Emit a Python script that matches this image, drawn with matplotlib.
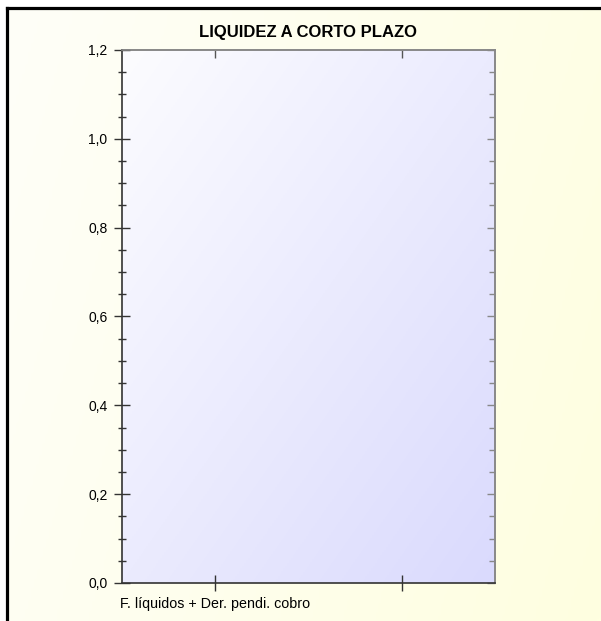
import numpy as np
import matplotlib
matplotlib.use('Agg')
import matplotlib.pyplot as plt
from matplotlib.ticker import FuncFormatter, MultipleLocator, NullFormatter
from matplotlib.colors import LinearSegmentedColormap
from matplotlib.lines import Line2D

plt.rcParams['font.family'] = ['Liberation Sans', 'DejaVu Sans']

title = 'LIQUIDEZ A CORTO PLAZO'
categories = ['F. líquidos + Der. pendi. cobro', '']
values = [0.0, 0.0]
y_max = 1.2

W, H = 601, 621
fig = plt.figure(figsize=(W / 100, H / 100), dpi=100, facecolor='white')

# background panel with soft cream gradient
bg = fig.add_axes([7 / W, 0, 1 - 7 / W, 1 - 9 / H], zorder=-10)
gx, gy = np.meshgrid(np.linspace(0, 1, 200), np.linspace(0, 1, 200))
bg_cmap = LinearSegmentedColormap.from_list('bg', ['#fefef8', '#ffffe0'])
bg.imshow((gx + (1 - gy) * 0.3) / 1.3, cmap=bg_cmap, aspect='auto',
          extent=[0, 1, 0, 1], origin='lower')
bg.set_axis_off()

# black border on top and left
fig.add_artist(Line2D([6.5 / W, 6.5 / W], [0, 1 - 7.5 / H], transform=fig.transFigure,
                      color='black', lw=2.3, solid_capstyle='projecting'))
fig.add_artist(Line2D([6.5 / W, 1], [1 - 7.5 / H, 1 - 7.5 / H], transform=fig.transFigure,
                      color='black', lw=2.3, solid_capstyle='projecting'))

ax = fig.add_axes([122 / W, (H - 583) / H, 373 / W, 533 / H])
pl_cmap = LinearSegmentedColormap.from_list('pl', ['#fcfcff', '#dadafd'])
ax.imshow((gx + (1 - gy)) / 2, cmap=pl_cmap, aspect='auto', extent=[0, 1, 0, 1],
          origin='lower', transform=ax.transAxes, zorder=0)

x = np.arange(len(categories)) + 0.5
ax.bar(x, values, width=0.6, color='#6666cc', linewidth=0, zorder=2)

ax.set_xlim(0, len(categories))
ax.set_ylim(0, y_max)
ax.set_xticks(x)
ax.set_xticklabels(categories, fontsize=10.3)
ax.yaxis.set_major_locator(MultipleLocator(0.2))
ax.yaxis.set_minor_locator(MultipleLocator(0.05))
ax.yaxis.set_major_formatter(FuncFormatter(lambda v, p: f'{v:.1f}'.replace('.', ',')))
ax.tick_params(axis='y', which='major', direction='inout', length=11, width=1,
               labelsize=10, pad=5, color='#333333')
ax.tick_params(axis='y', which='minor', direction='inout', length=6, width=1,
               color='#333333')
ax.tick_params(axis='x', direction='inout', length=12, width=1, pad=4, color='#333333')

# inward ticks on the right and top
ry = ax.secondary_yaxis('right')
ry.yaxis.set_major_locator(MultipleLocator(0.2))
ry.yaxis.set_minor_locator(MultipleLocator(0.05))
ry.yaxis.set_major_formatter(NullFormatter())
ry.tick_params(which='major', direction='in', length=6, width=1, color='#888888')
ry.tick_params(which='minor', direction='in', length=4, width=1, color='#888888')
ry.spines['right'].set_color('#888888')
ry.spines['right'].set_linewidth(1.2)

tx = ax.secondary_xaxis('top')
tx.set_xticks(x)
tx.xaxis.set_major_formatter(NullFormatter())
tx.tick_params(direction='in', length=6, width=1, color='#555555')
tx.spines['top'].set_color('#888888')
tx.spines['top'].set_linewidth(1.2)

for s in ['left', 'bottom']:
    ax.spines[s].set_color('#333333')
for s in ['top', 'right']:
    ax.spines[s].set_color('#888888')
for s in ax.spines.values():
    s.set_linewidth(1.2)

ax.set_title(title, fontsize=12, fontweight='bold', pad=9)

fig.savefig('out.png', dpi=100)
